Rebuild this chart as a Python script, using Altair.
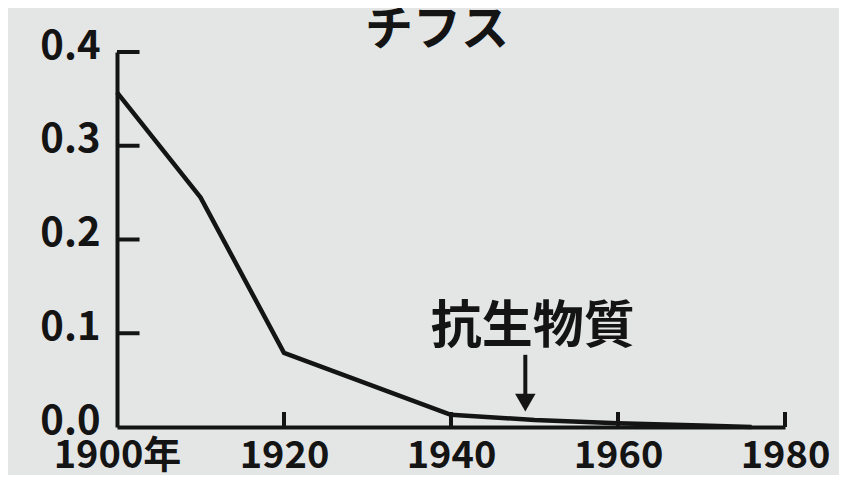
import altair as alt
import pandas as pd

# data
years = [1900, 1910, 1920, 1940, 1950, 1960, 1970, 1976]
rates = [0.357, 0.245, 0.079, 0.013, 0.0075, 0.004, 0.0015, 0.0]
y_tick_values = [0.1, 0.2, 0.3, 0.4]
x_tick_values = [1920, 1940, 1960, 1980]
x_label_values = [1900, 1920, 1940, 1960, 1980]
y_label_values = [0.0, 0.1, 0.2, 0.3, 0.4]
title_text = "チフス"
annotation_text = "抗生物質"
annotation_year = 1948.9

FONT = "Noto Sans CJK JP"
INK = "#141414"
BG = "#e4e6e6"

df = pd.DataFrame({"year": years, "rate": rates})
ytick_df = pd.DataFrame({"v": y_tick_values})
xtick_df = pd.DataFrame({"v": x_tick_values})

xs = alt.Scale(domain=[1900, 1980], nice=False, zero=False)
ys = alt.Scale(domain=[0, 0.4], nice=False)

xaxis = alt.Axis(values=x_label_values, format="d",
                 labelExpr="datum.value == 1900 ? '1900年' : datum.label",
                 ticks=False, grid=False, domainColor=INK, domainWidth=4,
                 labelFont=FONT, labelFontSize=38, labelFontWeight="bold",
                 labelColor=INK, labelPadding=10, title=None,
                 labelOverlap=False, labelFlush=False)
yaxis = alt.Axis(values=y_label_values, format=".1f",
                 ticks=False, grid=False, domainColor=INK, domainWidth=4,
                 labelFont=FONT, labelFontSize=40, labelFontWeight="bold",
                 labelColor=INK, labelPadding=17, labelOffset=-6, title=None,
                 labelOverlap=False, labelFlush=False)

line = alt.Chart(df).mark_line(color=INK, strokeWidth=4.5, strokeJoin="round").encode(
    x=alt.X("year:Q", scale=xs, axis=xaxis),
    y=alt.Y("rate:Q", scale=ys, axis=yaxis),
)

yticks = alt.Chart(ytick_df).mark_rule(color=INK, strokeWidth=4).encode(
    x=alt.X(datum=1900, type="quantitative", scale=xs, axis=xaxis),
    x2=alt.X2(datum=1902.7),
    y=alt.Y("v:Q", scale=ys, axis=yaxis),
)

xticks = alt.Chart(xtick_df).mark_rule(color=INK, strokeWidth=4).encode(
    x=alt.X("v:Q", scale=xs, axis=xaxis),
    y=alt.Y(datum=0, type="quantitative", scale=ys, axis=yaxis),
    y2=alt.Y2(datum=0.016),
)

shaft = alt.Chart(pd.DataFrame({"a": [0]})).mark_rule(color=INK, strokeWidth=4).encode(
    x=alt.X(datum=annotation_year, type="quantitative", scale=xs, axis=xaxis),
    y=alt.Y(datum=0.077, type="quantitative", scale=ys, axis=yaxis),
    y2=alt.Y2(datum=0.032),
)

head = alt.Chart(pd.DataFrame({"a": [0]})).mark_point(
    shape="triangle-down", filled=True, color=INK, size=420, opacity=1
).encode(
    x=alt.X(datum=annotation_year, type="quantitative", scale=xs, axis=xaxis),
    y=alt.Y(datum=0.026, type="quantitative", scale=ys, axis=yaxis),
)

label = alt.Chart(pd.DataFrame({"a": [0]})).mark_text(
    text=annotation_text, font=FONT, fontSize=51, fontWeight="bold",
    color=INK, baseline="middle", align="center"
).encode(
    x=alt.X(datum=1949.8, type="quantitative", scale=xs, axis=xaxis),
    y=alt.Y(datum=0.106, type="quantitative", scale=ys, axis=yaxis),
)

chart = alt.layer(line, yticks, xticks, shaft, head, label).properties(
    width=668,
    height=375,
    background=BG,
    padding={"left": 109, "top": 44, "right": 54, "bottom": 48},
    autosize=alt.AutoSizeParams(type="none"),
    title=alt.TitleParams(title_text, font=FONT, fontSize=48, fontWeight="bold",
                          color=INK, frame="group", anchor="middle", dx=-14,
                          offset=-29),
).configure_view(stroke=None)

chart.save("out.html", embed_options={"renderer": "svg", "actions": False})
